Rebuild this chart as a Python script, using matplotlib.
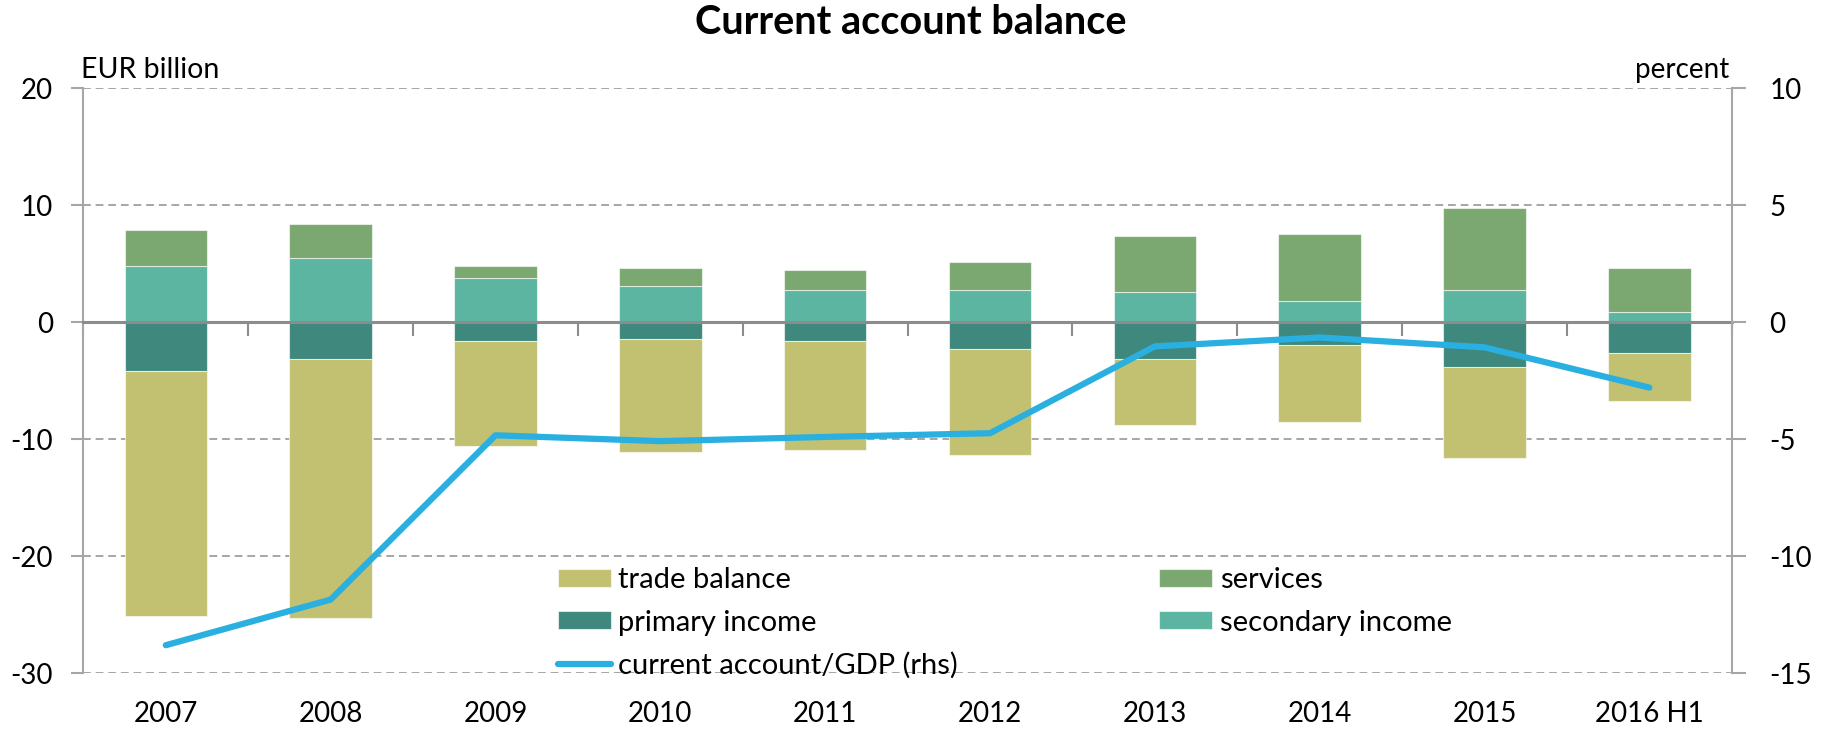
import numpy as np
import matplotlib
matplotlib.use("Agg")
import matplotlib.pyplot as plt

plt.rcParams['font.family'] = ['Lato', 'DejaVu Sans']
plt.rcParams['axes.unicode_minus'] = False

# data (EUR billion, current account/GDP in percent)
categories = ['2007', '2008', '2009', '2010', '2011', '2012', '2013', '2014', '2015', '2016 H1']
trade_balance = [-21.0, -22.2, -9.0, -9.7, -9.3, -9.1, -5.7, -6.6, -7.8, -4.1]
services = [3.05, 2.85, 0.99, 1.53, 1.70, 2.38, 4.73, 5.74, 6.93, 3.76]
primary_income = [-4.13, -3.11, -1.58, -1.41, -1.58, -2.26, -3.11, -1.92, -3.79, -2.60]
secondary_income = [4.84, 5.52, 3.82, 3.14, 2.80, 2.80, 2.63, 1.78, 2.80, 0.91]
ca_gdp = [-13.8, -11.85, -4.83, -5.08, -4.9, -4.74, -1.03, -0.65, -1.07, -2.79]

c_trade = '#C2C172'
c_serv = '#7BA870'
c_prim = '#3E887E'
c_sec = '#5BB5A0'
c_line = '#29B0E0'
grey = '#A6A6A6'

fig = plt.figure(figsize=(18.25, 7.32), dpi=100)
ax = fig.add_axes([0.0457, 0.0802, 0.9032, 0.7992])

x = np.arange(len(categories))
w = 0.5
ec = (1, 1, 1, 0.6)
b_sec = ax.bar(x, secondary_income, w, color=c_sec, edgecolor=ec, lw=0.8, label='secondary income')
b_serv = ax.bar(x, services, w, bottom=secondary_income, color=c_serv, edgecolor=ec, lw=0.8, label='services')
b_prim = ax.bar(x, primary_income, w, color=c_prim, edgecolor=ec, lw=0.8, label='primary income')
b_trade = ax.bar(x, trade_balance, w, bottom=primary_income, color=c_trade, edgecolor=ec, lw=0.8, label='trade balance')

ax.set_xlim(-0.5, len(categories) - 0.5)
ax.set_ylim(-30, 20)
ax.set_yticks(range(-30, 21, 10))
ax.yaxis.grid(True, color=grey, linestyle=(0, (4, 2.5)), lw=1.4)
ax.set_axisbelow(True)

ax.spines['top'].set_visible(False)
ax.spines['right'].set_visible(False)
ax.spines['left'].set_color(grey)
ax.spines['left'].set_linewidth(1.5)
ax.spines['bottom'].set_position(('data', 0))
ax.spines['bottom'].set_color('#8C8C8C')
ax.spines['bottom'].set_linewidth(2.2)
ax.spines['bottom'].set_zorder(3)

ax.set_xticks(x)
ax.set_xticklabels([])
ax.set_xticks(np.arange(len(categories) + 1) - 0.5, minor=True)
ax.tick_params(axis='x', which='major', length=0)
ax.tick_params(axis='x', which='minor', length=10, width=1.5, color='#8C8C8C', direction='out')
ax.tick_params(axis='y', length=9, width=1.5, color=grey, labelsize=20, pad=13)

sec = ax.secondary_xaxis('bottom')
sec.set_xticks(x, categories)
sec.tick_params(length=0, labelsize=20, pad=20)
sec.spines['bottom'].set_visible(False)

ax2 = ax.twinx()
ln, = ax2.plot(x, ca_gdp, color=c_line, lw=4.5, solid_capstyle='round',
               label='current account/GDP (rhs)')
ax2.set_ylim(-15, 10)
ax2.set_yticks(range(-15, 11, 5))
for s in ['top', 'left', 'bottom']:
    ax2.spines[s].set_visible(False)
ax2.spines['right'].set_color(grey)
ax2.spines['right'].set_linewidth(1.5)
ax2.tick_params(axis='y', length=10, width=1.5, color=grey, labelsize=20, pad=17)

handles = [b_trade, b_prim, ln, b_serv, b_sec]
labels = [h.get_label() for h in handles]
fig.legend(handles, labels, ncol=2, loc='upper left', bbox_to_anchor=(0.3058, 0.225),
           bbox_transform=fig.transFigure, frameon=False, fontsize=21,
           borderpad=0, borderaxespad=0, handlelength=1.8, handletextpad=0.27,
           columnspacing=6.9, labelspacing=0.56, handleheight=0.58)

fig.text(0.499, 0.9686, 'Current account balance', ha='center', va='center',
         fontsize=28.5, fontweight='bold')
fig.text(0.0445, 0.8934, 'EUR billion', ha='left', va='baseline', fontsize=20.5)
fig.text(0.9474, 0.8934, 'percent', ha='right', va='baseline', fontsize=20)

fig.savefig('out.png', dpi=100)
